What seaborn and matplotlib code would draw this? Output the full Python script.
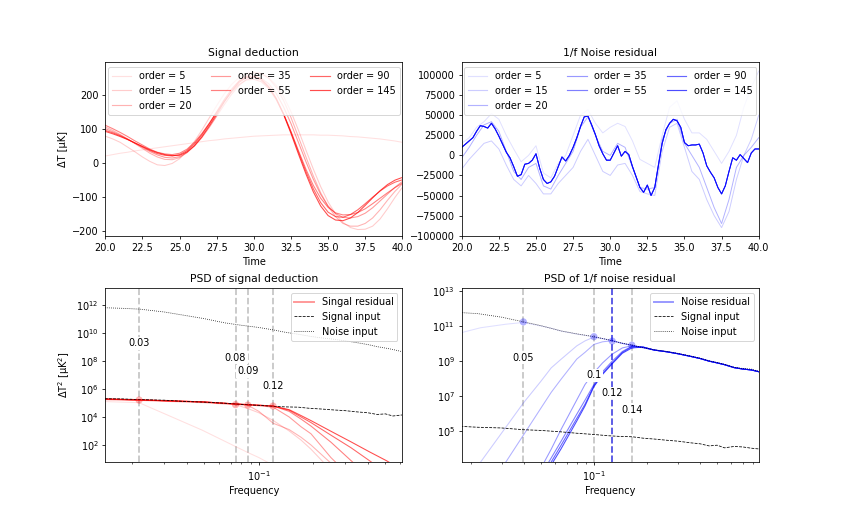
import numpy as np
import matplotlib
matplotlib.use("Agg")
import matplotlib.pyplot as plt
import seaborn as sns
from matplotlib.colors import to_rgba
from matplotlib.lines import Line2D
from matplotlib.ticker import NullLocator

OUTPUT_FILE = "out.png"

ORDERS = [5, 15, 20, 35, 55, 90, 145]
ALPHAS = [0.12, 0.2, 0.3, 0.4, 0.5, 0.6, 0.7]

# --- top left: signal deduction, sampled every 0.5 from t=20 to t=40 (uK)
TIME_SIG = np.arange(20.0, 40.01, 0.5)
SIG_5 = [20, 24, 28, 31, 35, 38, 41, 44, 47, 50, 53, 56, 59, 62, 65, 67, 70, 72, 74, 76,
         78, 79, 80, 81, 82, 82, 82, 82, 82, 81, 81, 80, 79, 77, 76, 74, 72, 70, 67, 64, 60]
SIG_15 = [78, 70, 60, 46, 32, 17, 4, -6, -8, -2, 12, 35, 63, 96, 132, 168, 202, 230, 250, 262,
          266, 262, 250, 228, 195, 150, 96, 38, -18, -70, -115, -150, -175, -190, -196, -195,
          -186, -165, -135, -102, -72]
SIG_20 = [105, 95, 83, 70, 56, 42, 28, 17, 10, 9, 15, 30, 52, 80, 112, 146, 180, 212, 238, 256,
          264, 262, 248, 222, 183, 133, 76, 18, -38, -88, -128, -158, -178, -186, -186, -178,
          -162, -138, -110, -84, -62]
SIG_35 = [100, 91, 81, 69, 57, 45, 33, 23, 16, 14, 18, 30, 49, 74, 104, 137, 170, 201, 227, 245,
          252, 248, 232, 204, 164, 115, 60, 4, -48, -93, -127, -149, -160, -162, -158, -148,
          -132, -112, -92, -72, -55]
SIG_55 = [110, 100, 89, 77, 64, 52, 40, 31, 26, 24, 28, 40, 60, 86, 116, 148, 180, 208, 230, 243,
          245, 238, 218, 186, 143, 92, 36, -18, -66, -104, -131, -147, -153, -152, -146, -135,
          -120, -104, -88, -73, -60]
SIG_90 = [95, 88, 79, 69, 58, 47, 36, 27, 22, 20, 24, 36, 56, 83, 115, 150, 185, 216, 240, 253,
          255, 246, 224, 190, 144, 90, 32, -25, -76, -117, -145, -158, -160, -152, -138, -120,
          -101, -83, -68, -57, -50]
SIG_145 = [92, 85, 77, 68, 58, 48, 38, 30, 24, 21, 22, 32, 50, 76, 108, 142, 178, 210, 236, 250,
           252, 243, 222, 188, 142, 86, 26, -32, -85, -127, -155, -168, -170, -162, -146, -125,
           -103, -82, -64, -51, -43]

# --- top right: 1/f noise residual (values in thousands of uK)
TIME_NOISE_COARSE = np.arange(20.0, 40.01, 0.5)
TIME_NOISE_FINE = np.arange(20.0, 40.01, 0.25)
NOISE_5_K = [15, 22, 35, 42, 52, 45, 25, 8, -8, 0, 12, -22, -28, -10, 0, 25, 50, 57, 40, 28,
             35, 40, 36, 18, -5, -10, -15, 25, 60, 68, 45, 28, 28, 20, 5, -10, 5, 25, 60, 85, 105]
NOISE_15_K = [-17, -5, 5, 15, 18, 8, -12, -30, -38, -25, -35, -48, -48, -35, -25, -15, 5, 20, 0, -20,
              -25, -12, -10, -25, -45, -48, -50, 5, 35, 40, 10, -20, -30, -55, -75, -90, -70, -30,
              0, 20, 50]
NOISE_20_K = [-3, 10, 25, 38, 42, 30, 5, -20, -30, -15, -10, -38, -42, -25, -10, 5, 35, 48, 25, 5,
              0, 15, 10, -15, -40, -42, -40, 20, 40, 45, 15, 0, -15, -40, -65, -85, -55, -15, 0,
              10, 22]
# orders 35..145 lie on top of each other
NOISE_HIGH_K = [10, 14, 18, 22, 30, 37, 36, 34, 40, 33,
                24, 14, 4, -3, -14, -26, -24, -11, -10, -6,
                2, -16, -30, -35, -33, -26, -14, -2, -7, 0,
                10, 22, 36, 48, 49, 38, 26, 12, 2, -6,
                -6, 3, 12, -1, 5, 1, -14, -27, -40, -46,
                -37, -50, -40, -12, 15, 32, 40, 45, 43, 35,
                16, 12, 13, 13, 14, 3, -13, -21, -28, -40,
                -48, -38, -20, -3, -6, 1, -4, -9, 3, 8, 8]

# --- inputs PSD (log10 of uK^2)
FREQ_IN = [0.0141, 0.0177, 0.022, 0.03, 0.04, 0.05, 0.065, 0.08, 0.1, 0.12, 0.14, 0.165, 0.19,
           0.22, 0.26, 0.3, 0.35, 0.4, 0.45, 0.5, 0.55, 0.625, 0.7, 0.78, 0.877]
NOISE_IN_LOG = [11.80, 11.76, 11.70, 11.50, 11.23, 11.02, 10.72, 10.55, 10.39, 10.22, 10.05, 9.91,
                9.77, 9.65, 9.55, 9.44, 9.30, 9.17, 9.02, 8.92, 8.82, 8.65, 8.58, 8.55, 8.40]
SIGNAL_IN_LOG = [5.30, 5.29, 5.24, 5.20, 5.10, 5.06, 4.98, 4.90, 4.83, 4.76, 4.72, 4.70, 4.62,
                 4.57, 4.50, 4.45, 4.36, 4.30, 4.18, 4.22, 4.07, 4.15, 4.12, 4.05, 4.00]

# --- bottom left: signal residual PSD (log10)
FREQ_RES = [0.0141, 0.0218, 0.0486, 0.0743, 0.0869, 0.1, 0.12, 0.147, 0.171, 0.194, 0.25, 0.323,
            0.408, 0.506, 0.625]
RES_SIG_LOG = {
    5: [5.10, 5.02, 3.06, 1.89, 1.46, 1.10, 0.55, 0.0, -0.4, -0.8, -1.5, -2.2, -2.8, -3.4, -4.0],
    15: [5.22, 5.18, 5.02, 4.88, 4.60, 4.30, 3.75, 3.00, 2.35, 1.70, 0.20, -1.2, -2.3, -3.3, -4.2],
    20: [5.25, 5.20, 5.05, 4.90, 4.84, 4.40, 3.55, 3.10, 2.55, 2.00, 0.70, -0.8, -2.0, -3.0, -4.0],
    35: [5.27, 5.21, 5.07, 4.92, 4.86, 4.80, 4.70, 4.00, 3.30, 2.80, 1.10, -0.3, -1.4, -2.4, -3.4],
    55: [5.28, 5.22, 5.08, 4.93, 4.87, 4.83, 4.78, 4.40, 3.85, 3.35, 2.20, 0.88, -0.3, -1.3, -2.3],
    90: [5.28, 5.22, 5.08, 4.93, 4.88, 4.84, 4.78, 4.48, 4.00, 3.60, 2.70, 1.80, 0.88, 0.0, -0.8],
    145: [5.29, 5.22, 5.08, 4.93, 4.88, 4.84, 4.78, 4.52, 4.10, 3.74, 2.98, 2.22, 1.51, 0.88, 0.2],
}
SIG_CUT_FREQ = [0.0218, 0.0743, 0.0869, 0.1197]
SIG_CUT_LABELS = ["0.03", "0.08", "0.09", "0.12"]
SIG_CUT_LABEL_Y_LOG = [9.26, 8.21, 7.26, 6.24]
SIG_CUT_MARK_LOG = [5.21, 4.88, 4.85, 4.78]

# --- bottom right: noise residual PSD (log10)
FREQ_BLUE = [0.0177, 0.0228, 0.0317, 0.0398, 0.05, 0.0573, 0.065, 0.08, 0.089, 0.1, 0.112, 0.127,
             0.145, 0.164, 0.19, 0.22, 0.26, 0.3, 0.35, 0.4, 0.45, 0.5, 0.55, 0.625, 0.7, 0.78,
             0.877]
BLUE_TAIL_LOG = [9.63, 9.53, 9.42, 9.28, 9.15, 9.00, 8.90, 8.80, 8.63, 8.55, 8.50, 8.38]
RES_NOISE_LOG = {
    5: [10.62, 10.90, 11.10, 11.20, 11.00, 10.87, 10.71, 10.54, 10.47, 10.38, 10.28, 10.17, 10.01,
        9.90, 9.76] + BLUE_TAIL_LOG,
    15: [1.75, 3.27, 5.25, 6.62, 7.85, 8.62, 9.10, 9.87, 10.15, 10.37, 10.28, 10.17, 10.01, 9.90,
         9.76] + BLUE_TAIL_LOG,
    20: [1.0, 2.0, 3.27, 4.79, 6.32, 7.23, 7.96, 9.12, 9.50, 9.95, 10.10, 10.16, 10.01, 9.90,
         9.76] + BLUE_TAIL_LOG,
    35: [-5.0, -3.0, -1.0, 1.0, 2.9, 4.0, 5.1, 6.8, 7.67, 8.35, 8.90, 9.40, 9.75, 9.88,
         9.78] + BLUE_TAIL_LOG,
    55: [-6.0, -4.0, -1.5, 0.5, 2.5, 3.5, 4.43, 5.99, 6.78, 7.67, 8.40, 9.00, 9.55, 9.85,
         9.80] + BLUE_TAIL_LOG,
    90: [-6.5, -4.5, -2.0, 0.2, 2.2, 3.27, 4.20, 5.75, 6.55, 7.60, 8.30, 8.90, 9.50, 9.82,
         9.80] + BLUE_TAIL_LOG,
    145: [-7.0, -5.0, -2.5, 0.0, 2.0, 3.10, 4.00, 5.60, 6.45, 7.55, 8.25, 8.85, 9.45, 9.75,
          9.80] + BLUE_TAIL_LOG,
}
NOISE_CUT_FREQ = [0.0398, 0.1, 0.127, 0.164]
NOISE_CUT_LABELS = ["0.05", "0.1", "0.12", "0.14"]
NOISE_CUT_LABEL_Y_LOG = [9.19, 8.2, 7.19, 6.24]
NOISE_CUT_MARK_LOG = [11.23, 10.39, 10.14, 9.91]

fig, axes = plt.subplots(2, 2, figsize=(843 / 70, 519 / 70), dpi=70)
plt.subplots_adjust(hspace=0.3)
ax_sig, ax_noise, ax_psd_sig, ax_psd_noise = axes.flat


def order_legend(ax, color):
    # alpha baked into the rgba colour so every handle keeps its hue
    handles = [Line2D([0, 1], [0, 0], color=to_rgba(color, a), linewidth=1.2) for a in ALPHAS]
    ax.legend(handles, [f"order = {o}" for o in ORDERS], ncol=3, loc="upper center")


# Signal deduction
for alpha, vals in zip(ALPHAS, [SIG_5, SIG_15, SIG_20, SIG_35, SIG_55, SIG_90, SIG_145]):
    sns.lineplot(x=TIME_SIG, y=vals, ax=ax_sig, color="red", alpha=alpha, linewidth=1.1,
                 estimator=None, sort=False)
ax_sig.set_xlim(20, 40)
ax_sig.set_ylim(-215, 295)
ax_sig.set_xlabel("Time")
ax_sig.set_ylabel("ΔT [μK]")
ax_sig.set_title("Signal deduction", fontsize=11)
order_legend(ax_sig, "red")

# 1/f noise residual
noise_series = [(TIME_NOISE_COARSE, NOISE_5_K), (TIME_NOISE_COARSE, NOISE_15_K),
                (TIME_NOISE_COARSE, NOISE_20_K), (TIME_NOISE_FINE, NOISE_HIGH_K),
                (TIME_NOISE_FINE, NOISE_HIGH_K), (TIME_NOISE_FINE, NOISE_HIGH_K),
                (TIME_NOISE_FINE, NOISE_HIGH_K)]
for alpha, (t, vals) in zip(ALPHAS, noise_series):
    sns.lineplot(x=t, y=np.array(vals) * 1000, ax=ax_noise, color="blue", alpha=alpha,
                 linewidth=1.0, estimator=None, sort=False)
ax_noise.set_xlim(20, 40)
ax_noise.set_ylim(-100500, 116000)
ax_noise.set_yticks(np.arange(-100000, 100001, 25000))
ax_noise.set_xlabel("Time")
ax_noise.set_ylabel("")
ax_noise.set_title("1/f Noise residual", fontsize=11)
order_legend(ax_noise, "blue")


def draw_psd(ax, color, res_freq, res_log, cut_freq, cut_labels, label_y, mark_y, res_label):
    ax.set_xscale("log")
    ax.set_yscale("log")
    for alpha, order in zip(ALPHAS, ORDERS):
        sns.lineplot(x=res_freq, y=10 ** np.array(res_log[order]), ax=ax, color=color,
                     alpha=alpha, linewidth=1.1, estimator=None, sort=False)
    sns.lineplot(x=FREQ_IN, y=10 ** np.array(SIGNAL_IN_LOG), ax=ax, color="black",
                 linewidth=0.8, linestyle="--", estimator=None, sort=False)
    sns.lineplot(x=FREQ_IN, y=10 ** np.array(NOISE_IN_LOG), ax=ax, color="black",
                 linewidth=0.8, linestyle=":", estimator=None, sort=False)
    for f in cut_freq:
        ax.axvline(f, color="gray", alpha=0.45, linestyle="--", linewidth=1.8, zorder=1)
    sns.scatterplot(x=cut_freq, y=10 ** np.array(mark_y), ax=ax, color=color, alpha=0.3,
                    s=55, edgecolor="none", zorder=4)
    for f, txt, ly in zip(cut_freq, cut_labels, label_y):
        ax.text(f, 10 ** ly, txt, ha="center", va="center", fontsize=10, zorder=6,
                bbox=dict(facecolor="white", edgecolor="none", pad=1.5))
    handles = [Line2D([0, 1], [0, 0], color=to_rgba(color, 0.4), linewidth=2),
               Line2D([0, 1], [0, 0], color="black", linewidth=0.8, linestyle="--"),
               Line2D([0, 1], [0, 0], color="black", linewidth=0.8, linestyle=":")]
    ax.legend(handles, [res_label, "Signal input", "Noise input"], loc="upper right")
    ax.yaxis.set_minor_locator(NullLocator())
    ax.set_xlabel("Frequency")


draw_psd(ax_psd_sig, "red", FREQ_RES, RES_SIG_LOG, SIG_CUT_FREQ, SIG_CUT_LABELS,
         SIG_CUT_LABEL_Y_LOG, SIG_CUT_MARK_LOG, "Singal residual")
ax_psd_sig.set_xlim(0.0142, 0.62)
ax_psd_sig.set_ylim(10 ** 0.79, 10 ** 13.2)
ax_psd_sig.set_yticks([1e2, 1e4, 1e6, 1e8, 1e10, 1e12])
ax_psd_sig.set_ylabel("ΔT$^2$ [μK$^2$]")
ax_psd_sig.set_title("PSD of signal deduction", fontsize=11)

draw_psd(ax_psd_noise, "blue", FREQ_BLUE, RES_NOISE_LOG, NOISE_CUT_FREQ, NOISE_CUT_LABELS,
         NOISE_CUT_LABEL_Y_LOG, NOISE_CUT_MARK_LOG, "Noise residual")
ax_psd_noise.axvline(0.127, color="blue", alpha=0.6, linestyle="--", linewidth=1.8, zorder=1)
ax_psd_noise.set_xlim(0.0178, 0.86)
ax_psd_noise.set_ylim(10 ** 3.27, 10 ** 13.15)
ax_psd_noise.set_yticks([1e5, 1e7, 1e9, 1e11, 1e13])
ax_psd_noise.set_ylabel("")
ax_psd_noise.set_title("PSD of 1/f noise residual", fontsize=11)

plt.savefig(OUTPUT_FILE, dpi=70)
